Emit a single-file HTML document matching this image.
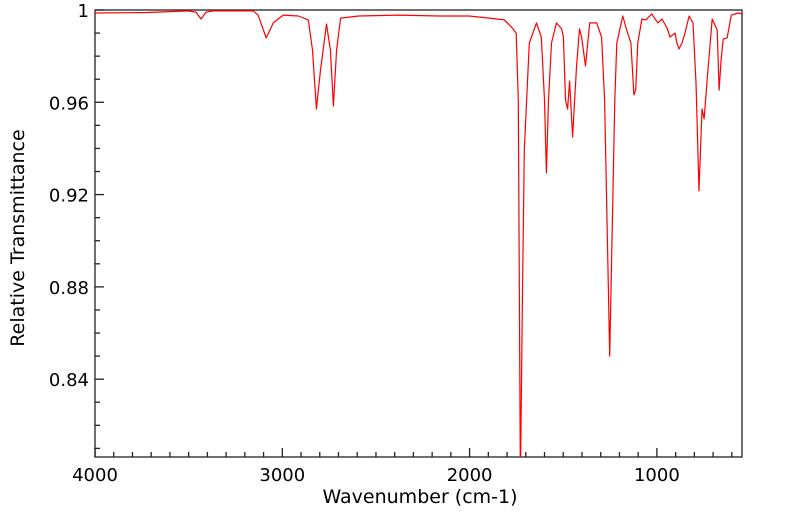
<!DOCTYPE html>
<html><head><meta charset="utf-8"><style>
html,body{margin:0;padding:0;background:#fff;}
svg{display:block;font-family:"DejaVu Sans","Liberation Sans",sans-serif;}
</style></head><body>
<svg id="chart" width="799" height="516" viewBox="0 0 799 516" xmlns="http://www.w3.org/2000/svg">
<rect x="95" y="10" width="647" height="447" fill="none" stroke="#222" stroke-width="1.3"/>
<g id="ticks"></g>
<g id="series"></g>
<text x="420" y="503" text-anchor="middle" font-size="19">Wavenumber (cm-1)</text>
<text transform="translate(24,238) rotate(-90)" text-anchor="middle" font-size="19">Relative Transmittance</text>
</svg>
<script>
const wavenumbers=[4013,3718,3504,3461,3434,3407,3370,3155,3129,3086,3048,2995,2914,2861,2839,2818,2796,2764,2743,2727,2710,2689,2592,2378,2164,2003,1895,1815,1772,1751,1740,1729,1718,1708,1681,1643,1617,1600,1590,1579,1563,1536,1509,1499,1488,1477,1466,1450,1429,1413,1402,1381,1359,1322,1295,1279,1263,1252,1241,1225,1214,1182,1161,1139,1123,1113,1102,1080,1059,1027,995,973,946,930,903,893,882,866,850,828,807,791,775,759,748,726,705,678,668,657,646,625,603,566,544];
const transmittance=[0.9987,0.9989,0.9996,0.9991,0.9961,0.9991,0.9996,0.9996,0.9978,0.9879,0.9944,0.9978,0.9974,0.9957,0.9827,0.9571,0.9740,0.9939,0.9827,0.9584,0.9827,0.9965,0.9974,0.9978,0.9974,0.9974,0.9965,0.9957,0.9922,0.9900,0.9610,0.7963,0.8743,0.9393,0.9857,0.9944,0.9883,0.9610,0.9294,0.9610,0.9857,0.9944,0.9918,0.9883,0.9610,0.9571,0.9692,0.9450,0.9753,0.9918,0.9883,0.9757,0.9944,0.9944,0.9883,0.9610,0.8960,0.8500,0.8960,0.9610,0.9857,0.9974,0.9913,0.9857,0.9632,0.9653,0.9857,0.9961,0.9957,0.9983,0.9944,0.9961,0.9922,0.9883,0.9900,0.9857,0.9831,0.9857,0.9900,0.9974,0.9944,0.9684,0.9216,0.9571,0.9528,0.9753,0.9961,0.9913,0.9653,0.9783,0.9874,0.9879,0.9978,0.9987,0.9983];
const xTickLabels=["4000","3000","2000","1000"];
const yTickLabels=["1","0.96","0.92","0.88","0.84"];
const NS="http://www.w3.org/2000/svg";
const PL=95,PR=742,PT=10,PB=457;
function xs(w){return 95+(4000-w)*0.1873;}
function ys(t){return 10+(1-t)/0.0004334;}
const tg=document.getElementById('ticks');
function line(x1,y1,x2,y2){const l=document.createElementNS(NS,'line');l.setAttribute('x1',x1);l.setAttribute('y1',y1);l.setAttribute('x2',x2);l.setAttribute('y2',y2);l.setAttribute('stroke','#222');l.setAttribute('stroke-width','1.3');tg.appendChild(l);return l;}
for(let w=4000;w>=600;w-=100){const x=xs(w);const major=w%1000===0;const l=line(x,PB,x,PB-(major?9:5));

}
xTickLabels.forEach(s=>{const t=document.createElementNS(NS,'text');t.setAttribute('x',xs(+s));t.setAttribute('y',481);t.setAttribute('text-anchor','middle');t.setAttribute('font-size','18');t.textContent=s;


tg.appendChild(t);});
for(let i=0;i<=19;i++){const v=1-i*0.01;const y=ys(v);if(y>PB)break;const major=i%4===0;const l=line(PL,y,PL+(major?9:5),y);

}
yTickLabels.forEach(s=>{const t=document.createElementNS(NS,'text');t.setAttribute('x',89);t.setAttribute('y',ys(+s)+7);t.setAttribute('text-anchor','end');t.setAttribute('font-size','18');t.textContent=s;


tg.appendChild(t);});
const sg=document.getElementById('series');
const cp=document.createElementNS(NS,'clipPath');cp.setAttribute('id','clip');const cr=document.createElementNS(NS,'rect');cr.setAttribute('x',PL);cr.setAttribute('y',PT);cr.setAttribute('width',PR-PL);cr.setAttribute('height',PB-PT);cp.appendChild(cr);sg.appendChild(cp);
const p=document.createElementNS(NS,'polyline');
p.setAttribute('points',wavenumbers.map((w,i)=>xs(w).toFixed(1)+','+ys(transmittance[i]).toFixed(1)).join(' '));
p.setAttribute('fill','none');p.setAttribute('stroke','#ff0000');p.setAttribute('stroke-width','1.2');p.setAttribute('stroke-linejoin','round');p.setAttribute('clip-path','url(#clip)');


sg.appendChild(p);
</script>
</body></html>
